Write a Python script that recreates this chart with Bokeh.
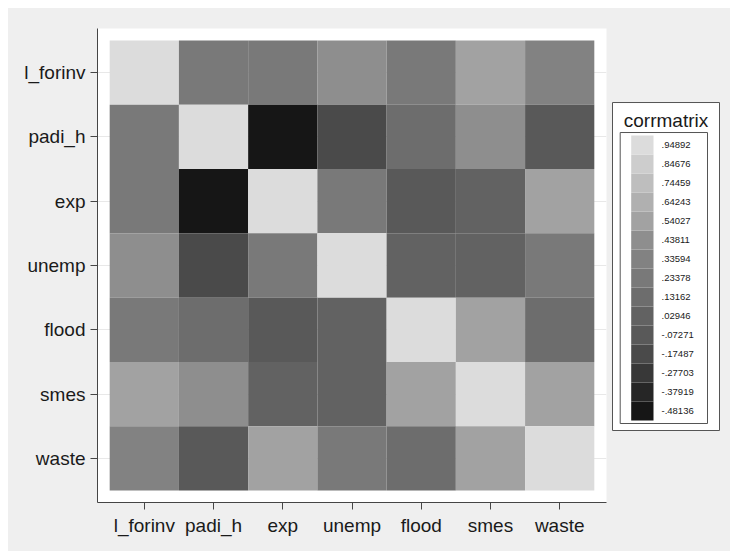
from bokeh.plotting import figure
from bokeh.models import ColumnDataSource, LinearColorMapper, Range1d, FixedTicker
from bokeh.transform import transform
from bokeh.layouts import row
from bokeh.core.properties import value
from bokeh.embed import file_html
from bokeh.resources import INLINE

# ---------------- data ----------------
variables = ["l_forinv", "padi_h", "exp", "unemp", "flood", "smes", "waste"]

r_l_forinv = [1.00, 0.21, 0.25, 0.41, 0.22, 0.52, 0.32]
r_padi_h = [0.21, 1.00, -0.53244, -0.19, 0.12, 0.45, -0.06]
r_exp = [0.25, -0.53244, 1.00, 0.24, -0.08, 0.01, 0.56]
r_unemp = [0.41, -0.19, 0.24, 1.00, 0.04, 0.02, 0.20]
r_flood = [0.22, 0.12, -0.08, 0.04, 1.00, 0.51, 0.15]
r_smes = [0.52, 0.45, 0.01, 0.02, 0.51, 1.00, 0.53]
r_waste = [0.32, -0.06, 0.56, 0.20, 0.15, 0.53, 1.00]

corr_rows = [r_l_forinv, r_padi_h, r_exp, r_unemp, r_flood, r_smes, r_waste]

legend_mids = [-.48136, -.37919, -.27703, -.17487, -.07271, .02946, .13162,
               .23378, .33594, .43811, .54027, .64243, .74459, .84676, .94892]
legend_labels = ["-.48136", "-.37919", "-.27703", "-.17487", "-.07271", ".02946",
                 ".13162", ".23378", ".33594", ".43811", ".54027", ".64243",
                 ".74459", ".84676", ".94892"]

grays = ["#161616", "#262626", "#383838", "#4a4a4a", "#595959", "#626262",
         "#6d6d6d", "#797979", "#828282", "#8e8e8e", "#a2a2a2", "#b0b0b0",
         "#bebebe", "#cdcdcd", "#dcdcdc"]

# ---------------- styling constants ----------------
FONT = "Liberation Sans"
BG = "#efefef"
TXT = "#1a1a1a"
AX = "#454545"
TOTAL_H = 543
BORDER_TOP = 20
FRAME_H = 474
BORDER_BOTTOM = TOTAL_H - BORDER_TOP - FRAME_H

n = len(variables)
step = legend_mids[1] - legend_mids[0]
low = legend_mids[0] - step / 2
high = legend_mids[-1] + step / 2

mapper = LinearColorMapper(palette=grays, low=low, high=high)

xs, ys, rs = [], [], []
for i, rrow in enumerate(corr_rows):
    for j, r in enumerate(rrow):
        xs.append(j)
        ys.append(n - 1 - i)
        rs.append(r)
src = ColumnDataSource(dict(x=xs, y=ys, r=rs))

pad_x = 0.176
pad_y = 0.1865
p = figure(width=602, height=TOTAL_H,
           x_range=Range1d(-0.5 - pad_x, n - 0.5 + pad_x),
           y_range=Range1d(-0.5 - pad_y, n - 0.5 + pad_y),
           output_backend="svg", toolbar_location=None,
           min_border_left=89, min_border_right=4,
           min_border_top=BORDER_TOP, min_border_bottom=BORDER_BOTTOM)
p.border_fill_color = BG
p.background_fill_color = "white"
p.outline_line_color = None

p.rect(x="x", y="y", width=1, height=1, source=src,
       fill_color=transform("r", mapper), line_color=None)

p.xgrid.visible = False
p.ygrid.grid_line_color = "#e8e8e8"
p.ygrid.grid_line_width = 1

p.xaxis.ticker = FixedTicker(ticks=list(range(n)))
p.yaxis.ticker = FixedTicker(ticks=list(range(n)))
p.xaxis.major_label_overrides = {j: v for j, v in enumerate(variables)}
p.yaxis.major_label_overrides = {n - 1 - i: v for i, v in enumerate(variables)}
for ax in (p.xaxis[0], p.yaxis[0]):
    ax.major_label_text_font = FONT
    ax.major_label_text_font_size = "19px"
    ax.major_label_text_color = TXT
    ax.major_label_standoff = 5
    ax.major_tick_in = 0
    ax.major_tick_out = 7
    ax.major_tick_line_color = AX
    ax.minor_tick_line_color = None
    ax.axis_line_color = AX
    ax.axis_line_width = 1
p.yaxis.major_label_orientation = "horizontal"

# ---------------- legend (key) ----------------
LEG_W = 120
ppu = 19 / step                      # pixels per correlation unit in the key
y0 = low - 82 / ppu
leg = figure(width=LEG_W, height=TOTAL_H,
             x_range=Range1d(0, LEG_W), y_range=Range1d(y0, y0 + FRAME_H / ppu),
             output_backend="svg", toolbar_location=None,
             x_axis_location=None, y_axis_location=None,
             min_border_left=0, min_border_right=0,
             min_border_top=BORDER_TOP, min_border_bottom=BORDER_BOTTOM)
leg.border_fill_color = BG
leg.background_fill_color = BG
leg.outline_line_color = None
leg.xgrid.visible = False
leg.ygrid.visible = False

out_top = high + 33 / ppu
out_bot = low - 10 / ppu
leg.rect(x=55.5, y=(out_top + out_bot) / 2, width=107, height=out_top - out_bot,
         fill_color="white", line_color="#555555", line_width=1)

box_top = high + 3 / ppu
box_bot = low - 3 / ppu
leg.rect(x=53.35, y=(box_top + box_bot) / 2, width=87.3, height=box_top - box_bot,
         fill_color="white", line_color="#555555", line_width=1)

lsrc = ColumnDataSource(dict(mid=legend_mids, label=legend_labels))
leg.rect(x=31.85, y="mid", width=22.3, height=step, source=lsrc,
         fill_color=transform("mid", mapper), line_color=None)
leg.text(x=51, y="mid", text="label", source=lsrc,
         text_font=value(FONT), text_font_size="9.5px", text_color=TXT,
         text_baseline="middle", text_align="left")

leg.text(x=[55.5], y=[high + 15 / ppu], text=["corrmatrix"],
         text_font=value(FONT), text_font_size="19px", text_color=TXT,
         text_baseline="middle", text_align="center")

layout = row(p, leg, spacing=0, margin=(8, 0, 0, 8),
             styles={"background-color": BG})

open("out.html", "w").write(file_html(layout, INLINE))
